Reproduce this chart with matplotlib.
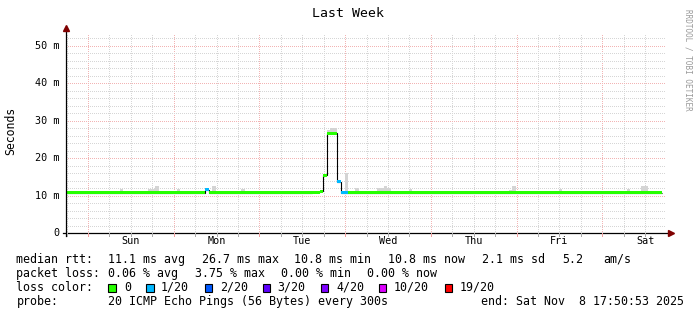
import matplotlib
matplotlib.use("Agg")
import matplotlib.pyplot as plt
from datetime import datetime, timedelta

# ---------------- data ----------------
title = "Last Week"
ylabel = "Seconds"
end_time = datetime(2025, 11, 8, 17, 50, 53)
span_hours = 168
day_names = ["Sun", "Mon", "Tue", "Wed", "Thu", "Fri", "Sat"]

# median rtt (ms) as steps; edges in hours since start
med_edges = [0, 39, 40, 69, 71, 72, 73, 76, 77, 79, 167]
med_vals = [10.8, 11.6, 10.8, 11.0, 11.2, 15.5, 26.7, 13.8, 10.8, 10.8]
med_loss = [0, 1, 0, 0, 0, 0, 0, 1, 1, 0]

# smoke (spread of pings) : hour ranges, lower and upper values (ms)
smoke_start = [0, 3, 6, 15, 23, 25, 31, 33, 41, 49, 56, 60, 73, 74, 78, 81, 85, 87, 89,
               92, 96, 99, 105, 111, 115, 120, 124, 125, 133, 135, 138, 140, 147,
               152, 157, 160, 161, 165]
smoke_end = [1, 4, 7, 16, 25, 26, 32, 34, 42, 50, 58, 62, 74, 76, 79, 82, 86, 91, 90,
             94, 97, 100, 107, 112, 116, 121, 125, 126, 134, 137, 139, 142, 149,
             154, 158, 161, 163, 167]
smoke_low = [10.4, 10.4, 10.4, 10.4, 10.4, 10.4, 10.4, 10.4, 10.4, 10.4, 10.4, 10.4,
             26.3, 26.3, 10.4, 10.4, 10.4, 10.4, 10.4, 10.4, 10.4, 10.4, 10.4, 10.4,
             10.4, 10.4, 10.4, 10.4, 10.4, 10.4, 10.4, 10.4, 10.4, 10.4, 10.4, 10.4,
             10.4, 10.4]
smoke_top = [11.3, 11.3, 11.3, 11.7, 11.7, 12.6, 11.7, 11.3, 12.6, 11.9, 11.3, 11.3,
             27.6, 28.1, 16.1, 12.1, 11.3, 12.1, 12.6, 11.3, 11.8, 11.3, 11.3, 11.3,
             11.3, 11.3, 11.5, 12.6, 11.3, 11.3, 11.8, 11.3, 11.3, 11.3, 11.8, 11.3,
             12.5, 11.2]

yticks = [0, 10, 20, 30, 40, 50]
ytick_labels = ["0", "10 m", "20 m", "30 m", "40 m", "50 m"]
ymax = 53.3

loss_labels = ["0", "1/20", "2/20", "3/20", "4/20", "10/20", "19/20"]
loss_colors = ["#26ff00", "#00b8ff", "#0059ff", "#5e00ff", "#7e00ff", "#dd00ff", "#ff0000"]

rtt_items = ["11.1 ms avg", "26.7 ms max", "10.8 ms min", "10.8 ms now", "2.1 ms sd", "5.2", "am/s"]
loss_items = ["0.06 % avg", "3.75 % max", "0.00 % min", "0.00 % now"]
probe_text = "20 ICMP Echo Pings (56 Bytes) every 300s"
end_text = "end: Sat Nov  8 17:50:53 2025"

# ---------------- figure ----------------
W, H = 697, 315
fig = plt.figure(figsize=(W / 100, H / 100), dpi=100)
fig.patch.set_facecolor("white")
mono = "DejaVu Sans Mono"

x0, y0, pw, ph = 66.0, 233.3, 600.0, 200.0
ax = fig.add_axes([x0 / W, (H - y0) / H, pw / W, ph / H])
ax.set_xlim(0, span_hours)
ax.set_ylim(0, ymax)
for s in ax.spines.values():
    s.set_visible(False)
ax.set_xticks([])
ax.set_yticks([])

start_time = end_time - timedelta(hours=span_hours)
first_mid = (start_time + timedelta(days=1)).replace(hour=0, minute=0, second=0)
mid_off = (first_mid - start_time).total_seconds() / 3600.0

# grid
dot = (0, (1, 2))
major_c = "#f2b4b4"
minor_c = "#d6d6d6"
h = mid_off - 24
while h <= span_hours:
    for k in range(4):
        hh = h + 6 * k
        if 0 <= hh <= span_hours:
            ax.axvline(hh, color=major_c if k == 0 else minor_c, lw=0.72, ls=dot,
                       zorder=1, antialiased=False)
    h += 24
yv = 2
while yv <= ymax:
    ax.axhline(yv, color=major_c if yv % 10 == 0 else minor_c, lw=0.72, ls=dot,
               zorder=1, antialiased=False)
    yv += 2

# smoke
for a, b, lo, t in zip(smoke_start, smoke_end, smoke_low, smoke_top):
    ax.bar(a, t - lo, width=b - a, bottom=lo, align="edge", color="#d4d4d4",
           linewidth=0, zorder=2)

# median black steps
ax.stairs(med_vals, med_edges, baseline=None, color="#000000", lw=0.8, zorder=3)
# loss-coloured bands
sw = 0.4
for i, v in enumerate(med_vals):
    ax.bar(med_edges[i], 2 * sw, width=med_edges[i + 1] - med_edges[i], bottom=v - sw,
           align="edge", color=loss_colors[med_loss[i]], linewidth=0, zorder=4)

# axes with arrows
ax.plot([-3 / pw * span_hours, span_hours + 2 / pw * span_hours], [0, 0], color="#000000",
        lw=0.9, clip_on=False, zorder=5)
ax.plot([0, 0], [-3 / ph * ymax, ymax + 3 / ph * ymax], color="#000000", lw=0.9,
        clip_on=False, zorder=5)
ax.plot([span_hours + 5 / pw * span_hours], [0], marker=">", color="#7f0000", ms=4.5,
        clip_on=False, zorder=6, mec="#7f0000")
ax.plot([0], [ymax + 5 / ph * ymax], marker="^", color="#7f0000", ms=4.5,
        clip_on=False, zorder=6, mec="#7f0000")

# small ticks under x axis
h = mid_off - 24
while h <= span_hours:
    for k in range(4):
        hh = h + 6 * k
        if 0 < hh <= span_hours:
            col = "#f0a0a0" if k == 0 else "#aaaaaa"
            ax.plot([hh, hh], [0, -2.5 / ph * ymax], color=col, lw=0.72, clip_on=False, zorder=5)
    h += 24

def ftext(x, y, s, **kw):
    fig.text(x / W, 1 - y / H, s, family=mono, **kw)

# day labels at noon
for i, name in enumerate(day_names):
    hh = mid_off + 12 + 24 * i
    ax.text(hh, -8.0 / ph * ymax, name, family=mono, fontsize=7.3, ha="center", va="center")

# y tick labels
for v, lab in zip(yticks, ytick_labels):
    ax.text(-6.5 / pw * span_hours, v, lab, family=mono, fontsize=7.3, ha="right", va="center")

ftext(11, 131, ylabel, fontsize=8.3, rotation=90, ha="center", va="center")
ftext(347.5, 13.5, title, fontsize=9.5, ha="center", va="center")
ftext(688, 60, "RRDTOOL / TOBI OETIKER", fontsize=5.5, rotation=-90, ha="center",
      va="center", color="#999999")

# legend lines
fs = 8.4
r1, r2, r3, r4 = 259.5, 273.5, 287.5, 301.5
ftext(16.5, r1, "median rtt:", fontsize=fs, va="center")
for x, s in zip([108.1, 202, 294.4, 388.3, 481.6, 562, 603.2], rtt_items):
    ftext(x, r1, s, fontsize=fs, va="center")
ftext(16.5, r2, "packet loss:", fontsize=fs, va="center")
for x, s in zip([108.1, 194.8, 281, 367.3], loss_items):
    ftext(x, r2, s, fontsize=fs, va="center")
ftext(16.5, r3, "loss color:", fontsize=fs, va="center")
box_x = [108.3, 146.1, 204.6, 262.7, 320.8, 378.9, 444.6]
lab_x = [124.2, 160.8, 219.8, 277.5, 336.0, 394.0, 459.3]
for bx, lx, c, l in zip(box_x, lab_x, loss_colors, loss_labels):
    fig.patches.append(plt.Rectangle((bx / W, 1 - (r3 + 4) / H), 7.5 / W, 8 / H,
                                     transform=fig.transFigure, facecolor=c,
                                     edgecolor="black", lw=0.8))
    ftext(lx, r3, l, fontsize=fs, va="center")
ftext(16.5, r4, "probe:", fontsize=fs, va="center")
ftext(108.1, r4, probe_text, fontsize=fs, va="center")
ftext(481.2, r4, end_text, fontsize=fs, va="center")

fig.savefig("out.png", dpi=100, facecolor="white")
